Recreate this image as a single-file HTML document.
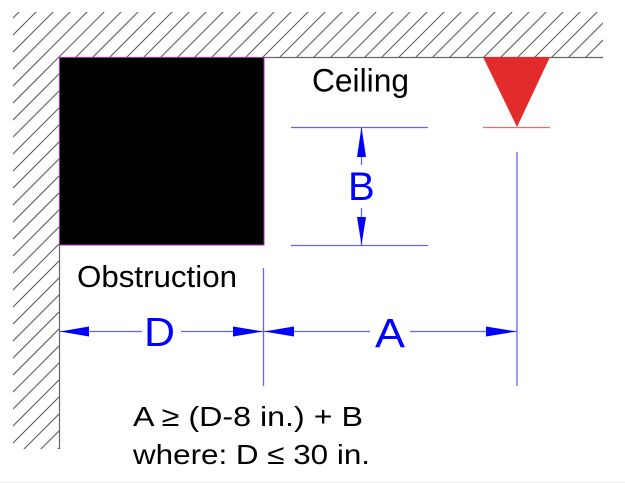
<!DOCTYPE html>
<html>
<head>
<meta charset="utf-8">
<style>
  html, body { margin: 0; padding: 0; background: #ffffff; }
  body { width: 625px; height: 483px; overflow: hidden; }
  svg { display: block; }
  text { font-family: "Liberation Sans", Arial, sans-serif; }
</style>
</head>
<body>
<svg width="625" height="483" viewBox="0 0 625 483" xmlns="http://www.w3.org/2000/svg">
  <defs>
    <clipPath id="hatchclip">
      <polygon points="13,12 603,12 603,57 59,57 59,449 13,449"/>
    </clipPath>
  </defs>

  <!-- hatching -->
  <g clip-path="url(#hatchclip)" stroke="#555" stroke-width="1">
    <line x1="-3" y1="0" x2="-500" y2="497"/>
    <line x1="14" y1="0" x2="-483" y2="497"/>
    <line x1="31" y1="0" x2="-466" y2="497"/>
    <line x1="48" y1="0" x2="-449" y2="497"/>
    <line x1="65" y1="0" x2="-432" y2="497"/>
    <line x1="82" y1="0" x2="-415" y2="497"/>
    <line x1="99" y1="0" x2="-398" y2="497"/>
    <line x1="116" y1="0" x2="-381" y2="497"/>
    <line x1="133" y1="0" x2="-364" y2="497"/>
    <line x1="150" y1="0" x2="-347" y2="497"/>
    <line x1="167" y1="0" x2="-330" y2="497"/>
    <line x1="184" y1="0" x2="-313" y2="497"/>
    <line x1="201" y1="0" x2="-296" y2="497"/>
    <line x1="218" y1="0" x2="-279" y2="497"/>
    <line x1="235" y1="0" x2="-262" y2="497"/>
    <line x1="252" y1="0" x2="-245" y2="497"/>
    <line x1="269" y1="0" x2="-228" y2="497"/>
    <line x1="286" y1="0" x2="-211" y2="497"/>
    <line x1="303" y1="0" x2="-194" y2="497"/>
    <line x1="320" y1="0" x2="-177" y2="497"/>
    <line x1="337" y1="0" x2="-160" y2="497"/>
    <line x1="354" y1="0" x2="-143" y2="497"/>
    <line x1="371" y1="0" x2="-126" y2="497"/>
    <line x1="388" y1="0" x2="-109" y2="497"/>
    <line x1="405" y1="0" x2="-92" y2="497"/>
    <line x1="422" y1="0" x2="-75" y2="497"/>
    <line x1="439" y1="0" x2="-58" y2="497"/>
    <line x1="456" y1="0" x2="-41" y2="497"/>
    <line x1="473" y1="0" x2="-24" y2="497"/>
    <line x1="490" y1="0" x2="-7" y2="497"/>
    <line x1="507" y1="0" x2="10" y2="497"/>
    <line x1="524" y1="0" x2="27" y2="497"/>
    <line x1="541" y1="0" x2="44" y2="497"/>
    <line x1="558" y1="0" x2="61" y2="497"/>
    <line x1="575" y1="0" x2="78" y2="497"/>
    <line x1="592" y1="0" x2="95" y2="497"/>
    <line x1="609" y1="0" x2="112" y2="497"/>
    <line x1="626" y1="0" x2="129" y2="497"/>
    <line x1="643" y1="0" x2="146" y2="497"/>
    <line x1="660" y1="0" x2="163" y2="497"/>
    <line x1="677" y1="0" x2="180" y2="497"/>
  </g>

  <!-- ceiling line and wall line -->
  <line x1="59" y1="57.5" x2="603" y2="57.5" stroke="#666" stroke-width="1.2"/>
  <line x1="59.5" y1="57" x2="59.5" y2="449" stroke="#666" stroke-width="1.2"/>

  <!-- obstruction (black box) -->
  <rect x="59.5" y="57.5" width="204.5" height="187.5" fill="#000" stroke="#a030b0" stroke-width="1"/>

  <!-- sprinkler triangle -->
  <polygon points="483,57 550,57 517,127" fill="#e32b2b"/>
  <line x1="483" y1="127.5" x2="550" y2="127.5" stroke="#ee6b6b" stroke-width="1.2"/>

  <!-- labels -->
  <text x="312" y="91.5" font-size="32" fill="#000" textLength="97" lengthAdjust="spacingAndGlyphs">Ceiling</text>
  <text x="77" y="287" font-size="31" fill="#000" textLength="160" lengthAdjust="spacingAndGlyphs">Obstruction</text>

  <!-- B dimension -->
  <g stroke="#6262ff" stroke-width="1.3" fill="none">
    <line x1="291" y1="127.5" x2="428" y2="127.5"/>
    <line x1="291" y1="245.5" x2="428" y2="245.5"/>
    <line x1="361.5" y1="127" x2="361.5" y2="165"/>
    <line x1="361.5" y1="208" x2="361.5" y2="245"/>
  </g>
  <polygon points="361.5,127 357,157 366,157" fill="#0000ff"/>
  <polygon points="361.5,245 357,217 366,217" fill="#0000ff"/>
  <text x="348" y="200" font-size="40" fill="#0000ff">B</text>

  <!-- vertical extension lines -->
  <g stroke="#6262ff" stroke-width="1.3">
    <line x1="517" y1="152" x2="517" y2="386"/>
    <line x1="263.5" y1="268" x2="263.5" y2="386"/>
  </g>

  <!-- D dimension -->
  <g stroke="#6262ff" stroke-width="1.3">
    <line x1="59" y1="331.5" x2="142" y2="331.5"/>
    <line x1="181" y1="331.5" x2="263" y2="331.5"/>
    <line x1="263" y1="331.5" x2="370" y2="331.5"/>
    <line x1="410" y1="331.5" x2="517" y2="331.5"/>
  </g>
  <polygon points="60,331.5 89,326.5 89,336.5" fill="#0000ff"/>
  <polygon points="263,331.5 233,326.5 233,336.5" fill="#0000ff"/>
  <polygon points="264,331.5 294,326.5 294,336.5" fill="#0000ff"/>
  <polygon points="516.5,331.5 486,326.5 486,336.5" fill="#0000ff"/>
  <text x="144" y="346" font-size="41" fill="#0000ff" textLength="31" lengthAdjust="spacingAndGlyphs">D</text>
  <text x="375" y="347" font-size="41" fill="#0000ff" textLength="30" lengthAdjust="spacingAndGlyphs">A</text>

  <!-- equations -->
  <text x="133" y="426" font-size="28" fill="#000" textLength="230" lengthAdjust="spacingAndGlyphs">A ≥ (D-8 in.) + B</text>
  <text x="133" y="464" font-size="28" fill="#000" textLength="237" lengthAdjust="spacingAndGlyphs">where: D ≤ 30 in.</text>

  <!-- faint bottom edge -->
  <line x1="0" y1="482.5" x2="625" y2="482.5" stroke="#eeeeee" stroke-width="1"/>
</svg>
</body>
</html>
